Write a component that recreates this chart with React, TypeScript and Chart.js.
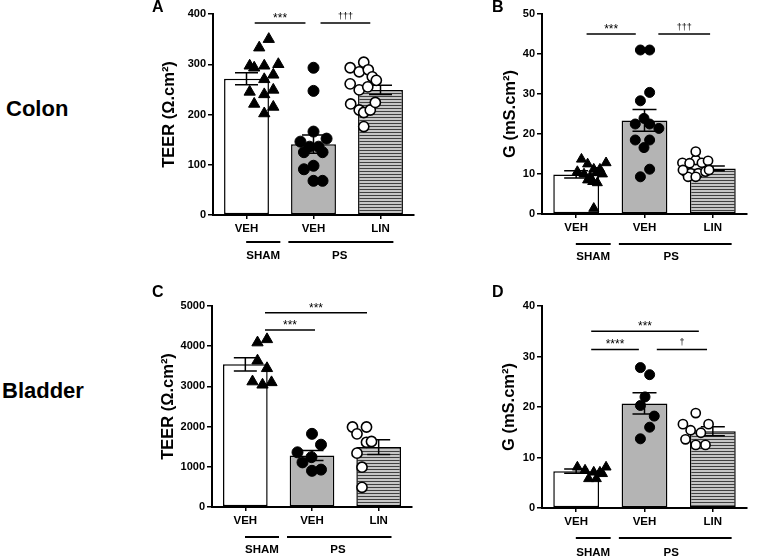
import React, { useEffect, useRef } from "react";
import { Chart, registerables } from "chart.js";
Chart.register(...registerables);

const FONT = "'Liberation Sans', Arial, Helvetica, sans-serif";

const categories = ["VEH", "VEH", "LIN"];
const groupLabels = ["SHAM", "PS"];

// ---------- Panel A: Colon TEER ----------
const aMeans = [271, 141, 249];
const aSem = [12, 18, 9];
const aShamY = [350, 333, 297, 293, 297, 300, 279, 270, 245, 240, 249, 221, 215, 202];
const aShamX = [0.11, -0.08, -0.27, -0.18, 0.02, 0.3, 0.2, 0.02, -0.27, 0.02, 0.2, -0.18, 0.2, 0.02];
const aVehY = [293, 247, 166, 146, 152, 136, 136, 125, 125, 98, 91, 68, 68];
const aVehX = [0, 0, 0, -0.26, 0.26, -0.08, 0.1, -0.19, 0.18, 0, -0.19, 0, 0.18];
const aLinY = [293, 304, 285, 289, 275, 268, 261, 249, 255, 221, 209, 204, 209, 224, 176];
const aLinX = [-0.27, 0, -0.09, 0.09, 0.17, 0.25, -0.27, -0.09, 0.08, -0.26, -0.09, 0, 0.13, 0.23, 0];
const aSigFrom = [-0.17, 1.14];
const aSigTo = [0.84, 2.13];
const aSigY = [382, 382];
const aSigText = ["***", "†††"];

// ---------- Panel B: Colon G ----------
const bMeans = [9.9, 23.4, 11.4];
const bSem = [0.9, 2.7, 0.6];
const bShamY = [13.7, 12.5, 12.8, 11.2, 11.2, 10.6, 10.0, 9.3, 10.3, 10.0, 8.1, 7.8, 8.5, 1.4];
const bShamX = [-0.23, -0.11, 0.25, 0.01, 0.13, -0.31, -0.18, -0.06, 0.06, 0.18, -0.01, 0.08, -0.11, 0.01];
const bVehY = [41, 41, 30.4, 28.3, 23.9, 22.5, 22.5, 21.4, 18.5, 18.5, 16.6, 11.2, 9.3];
const bVehX = [-0.08, 0.1, 0.1, -0.08, -0.01, -0.18, 0.1, 0.28, -0.18, 0.1, -0.01, 0.1, -0.08];
const bLinY = [13.5, 12.8, 12.7, 12.8, 13.3, 15.6, 10.6, 10.2, 10.2, 10.6, 9.3, 9.3, 11, 11];
const bLinX = [0, -0.26, -0.12, 0.12, 0.24, 0, -0.2, -0.1, 0.05, 0.19, -0.15, 0, -0.25, 0.26];
const bSigFrom = [-0.13, 1.27];
const bSigTo = [0.83, 2.28];
const bSigY = [45, 45];
const bSigText = ["***", "†††"];

// ---------- Panel C: Bladder TEER ----------
const cMeans = [3550, 1280, 1490];
const cSem = [165, 125, 185];
const cShamY = [4090, 4170, 3640, 3450, 3120, 3040, 3100];
const cShamX = [-0.09, 0.1, -0.09, 0.1, -0.19, 0.01, 0.19];
const cVehY = [1820, 1360, 1550, 1240, 1110, 900, 930];
const cVehX = [0, -0.29, 0.18, -0.01, -0.19, 0, 0.18];
const cLinY = [1990, 1990, 1820, 1610, 1630, 1340, 990, 490];
const cLinX = [-0.19, 0.09, -0.1, 0.09, 0.19, -0.1, 0, 0];
const cSigFrom = [0.06, 0.06];
const cSigTo = [2.1, 1.06];
const cSigY = [4830, 4400];
const cSigText = ["***", "***"];

// ---------- Panel D: Bladder G ----------
const dMeans = [7.3, 20.7, 15.2];
const dSem = [0.4, 2.1, 0.9];
const dShamY = [8.1, 8.1, 7.5, 7.1, 7.1, 5.8, 5.8, 6.8];
const dShamX = [-0.31, 0.25, -0.16, 0.01, 0.13, -0.09, 0.06, 0.18];
const dVehY = [27.8, 26.4, 22, 20.3, 18.2, 16, 13.7];
const dVehX = [-0.08, 0.1, 0.01, -0.08, 0.19, 0.1, -0.08];
const dLinY = [18.8, 16.6, 16.6, 15.4, 14.9, 13.6, 12.5, 12.5];
const dLinX = [0, -0.25, 0.25, -0.1, 0.1, -0.2, 0, 0.19];
const dSigFrom = [-0.04, -0.04, 1.24];
const dSigTo = [2.06, 0.89, 2.22];
const dSigY = [35, 31.4, 31.4];
const dSigText = ["***", "****", "†"];

const teerTitle = "TEER (Ω.cm²)";
const gTitle = "G (mS.cm²)";

type PanelCfg = {
  left: number; top: number; w: number; h: number;
  yW: number; xH: number;
  pad: { top: number; right: number; bottom: number; left: number };
  yMax: number; yStep: number;
  means: number[]; sem: number[];
  shamX: number[]; shamY: number[];
  vehX: number[]; vehY: number[];
  linX: number[]; linY: number[];
  sigFrom: number[]; sigTo: number[]; sigY: number[]; sigText: string[];
  title: string; titleOff: number;
  psEnd: number; lineOff: number; labelOff: number;
  triR: number; cirR: number; cap: number;
};

const panels: PanelCfg[] = [
  {
    left: 150, top: 0, w: 290, h: 275, yW: 63, xH: 55,
    pad: { top: 14, right: 26, bottom: 5, left: 0 },
    yMax: 400, yStep: 100, means: aMeans, sem: aSem,
    shamX: aShamX, shamY: aShamY, vehX: aVehX, vehY: aVehY, linX: aLinX, linY: aLinY,
    sigFrom: aSigFrom, sigTo: aSigTo, sigY: aSigY, sigText: aSigText,
    title: teerTitle, titleOff: 44, psEnd: 2.59, lineOff: 27, labelOff: 41,
    triR: 6.5, cirR: 5.5, cap: 23,
  },
  {
    left: 480, top: 0, w: 277, h: 275, yW: 62, xH: 55,
    pad: { top: 14, right: 10, bottom: 6, left: 0 },
    yMax: 50, yStep: 10, means: bMeans, sem: bSem,
    shamX: bShamX, shamY: bShamY, vehX: bVehX, vehY: bVehY, linX: bLinX, linY: bLinY,
    sigFrom: bSigFrom, sigTo: bSigTo, sigY: bSigY, sigText: bSigText,
    title: gTitle, titleOff: 32, psEnd: 2.7, lineOff: 30, labelOff: 43,
    triR: 5.8, cirR: 5, cap: 24,
  },
  {
    left: 150, top: 280, w: 290, h: 278, yW: 62, xH: 45,
    pad: { top: 26, right: 28, bottom: 6, left: 0 },
    yMax: 5000, yStep: 1000, means: cMeans, sem: cSem,
    shamX: cShamX, shamY: cShamY, vehX: cVehX, vehY: cVehY, linX: cLinX, linY: cLinY,
    sigFrom: cSigFrom, sigTo: cSigTo, sigY: cSigY, sigText: cSigText,
    title: teerTitle, titleOff: 44, psEnd: 2.59, lineOff: 30, labelOff: 43,
    triR: 6.5, cirR: 5.5, cap: 23,
  },
  {
    left: 480, top: 280, w: 277, h: 278, yW: 62, xH: 45,
    pad: { top: 26, right: 10, bottom: 5, left: 0 },
    yMax: 40, yStep: 10, means: dMeans, sem: dSem,
    shamX: dShamX, shamY: dShamY, vehX: dVehX, vehY: dVehY, linX: dLinX, linY: dLinY,
    sigFrom: dSigFrom, sigTo: dSigTo, sigY: dSigY, sigText: dSigText,
    title: gTitle, titleOff: 33, psEnd: 2.7, lineOff: 30, labelOff: 45,
    triR: 5.8, cirR: 5, cap: 24,
  },
];

const annotPlugin = {
  id: "annot",
  afterDatasetDraw(chart: any, args: any, opts: any) {
    if (args.index !== 3) return;
    const ctx = chart.ctx;
    const x = chart.scales.x;
    const y = chart.scales.y;
    ctx.save();
    ctx.strokeStyle = "#000";
    ctx.lineWidth = 1.5;
    opts.means.forEach((m: number, i: number) => {
      const px = x.getPixelForValue(i);
      const t = y.getPixelForValue(m + opts.sem[i]);
      const b = y.getPixelForValue(m - opts.sem[i]);
      const hc = opts.cap / 2;
      ctx.beginPath();
      ctx.moveTo(px, t); ctx.lineTo(px, b);
      ctx.moveTo(px - hc, t); ctx.lineTo(px + hc, t);
      ctx.moveTo(px - hc, b); ctx.lineTo(px + hc, b);
      ctx.stroke();
    });
    ctx.restore();
  },
  afterDraw(chart: any, _args: any, opts: any) {
    const ctx = chart.ctx;
    const xs = chart.scales.xs;
    const y = chart.scales.y;
    const area = chart.chartArea;
    ctx.save();
    ctx.fillStyle = "#000";
    ctx.strokeStyle = "#000";
    opts.sigFrom.forEach((f: number, i: number) => {
      const x0 = xs.getPixelForValue(f);
      const x1 = xs.getPixelForValue(opts.sigTo[i]);
      const py = y.getPixelForValue(opts.sigY[i]);
      ctx.lineWidth = 1.5;
      ctx.beginPath();
      ctx.moveTo(x0, py); ctx.lineTo(x1, py);
      ctx.stroke();
      const txt = opts.sigText[i];
      const dagger = txt.indexOf("†") >= 0;
      ctx.font = dagger ? `9px ${FONT}` : `12px ${FONT}`;
      ctx.textAlign = "center";
      ctx.textBaseline = "alphabetic";
      ctx.fillText(txt, (x0 + x1) / 2, dagger ? py - 4 : py - 1);
    });
    const ly = area.bottom + opts.lineOff;
    ctx.lineWidth = 2;
    ctx.beginPath();
    ctx.moveTo(xs.getPixelForValue(-0.34), ly);
    ctx.lineTo(xs.getPixelForValue(0.34), ly);
    ctx.moveTo(xs.getPixelForValue(0.5), ly);
    ctx.lineTo(xs.getPixelForValue(opts.psEnd), ly);
    ctx.stroke();
    ctx.font = `bold 11.5px ${FONT}`;
    ctx.textAlign = "center";
    ctx.textBaseline = "middle";
    ctx.fillText(groupLabels[0], xs.getPixelForValue(0), area.bottom + opts.labelOff);
    ctx.fillText(groupLabels[1], xs.getPixelForValue(1.52), area.bottom + opts.labelOff);
    ctx.save();
    ctx.translate(area.left - opts.titleOff, (area.top + area.bottom) / 2);
    ctx.rotate(-Math.PI / 2);
    ctx.font = `bold 16.5px ${FONT}`;
    ctx.textAlign = "center";
    ctx.textBaseline = "middle";
    ctx.fillText(opts.title, 0, 0);
    ctx.restore();
    ctx.restore();
  },
};

function makeStripes(): CanvasPattern | string {
  const c = document.createElement("canvas");
  c.width = 4;
  c.height = 3;
  const g = c.getContext("2d");
  if (!g) return "#999";
  g.fillStyle = "#c6c6c6";
  g.fillRect(0, 0, 4, 3);
  g.fillStyle = "#404040";
  g.fillRect(0, 0, 4, 1);
  return g.createPattern(c, "repeat") || "#999";
}

function PanelChart({ cfg }: { cfg: PanelCfg }) {
  const ref = useRef<HTMLCanvasElement | null>(null);
  useEffect(() => {
    if (!ref.current) return;
    const stripes = makeStripes();
    const pts = (xo: number[], yv: number[], c: number) =>
      yv.map((v, i) => ({ x: c + xo[i], y: v }));
    const chart = new Chart(ref.current, {
      type: "bar",
      data: {
        labels: categories,
        datasets: [
          {
            type: "scatter",
            data: pts(cfg.shamX, cfg.shamY, 0),
            xAxisID: "xs",
            yAxisID: "y",
            pointStyle: "triangle",
            pointRadius: cfg.triR,
            backgroundColor: "#000",
            borderColor: "#000",
            borderWidth: 1,
            order: 0,
          } as any,
          {
            type: "scatter",
            data: pts(cfg.vehX, cfg.vehY, 1),
            xAxisID: "xs",
            yAxisID: "y",
            pointStyle: "circle",
            pointRadius: cfg.cirR,
            backgroundColor: "#000",
            borderColor: "#000",
            borderWidth: 1,
            order: 0,
          } as any,
          {
            type: "scatter",
            data: pts(cfg.linX, cfg.linY, 2),
            xAxisID: "xs",
            yAxisID: "y",
            pointStyle: "circle",
            pointRadius: cfg.cirR - 0.4,
            backgroundColor: "#fff",
            borderColor: "#000",
            borderWidth: 1.6,
            order: 0,
          } as any,
          {
            type: "bar",
            data: cfg.means,
            xAxisID: "x",
            yAxisID: "y",
            backgroundColor: ["#ffffff", "#b4b4b4", stripes],
            borderColor: "#000",
            borderWidth: 1.5,
            borderSkipped: false,
            grouped: false,
            barPercentage: 1,
            categoryPercentage: 0.67,
            order: 1,
          } as any,
        ],
      },
      options: {
        responsive: false,
        animation: false,
        devicePixelRatio: 1,
        events: [],
        layout: { padding: cfg.pad },
        plugins: {
          legend: { display: false },
          tooltip: { enabled: false },
          annot: {
            means: cfg.means, sem: cfg.sem, cap: cfg.cap,
            sigFrom: cfg.sigFrom, sigTo: cfg.sigTo, sigY: cfg.sigY, sigText: cfg.sigText,
            title: cfg.title, titleOff: cfg.titleOff, psEnd: cfg.psEnd,
            lineOff: cfg.lineOff, labelOff: cfg.labelOff,
          },
        } as any,
        scales: {
          x: {
            type: "category",
            offset: true,
            grid: {
              display: true, drawOnChartArea: false, offset: false,
              tickLength: 4, color: "#000", lineWidth: 1.5,
            },
            border: { display: true, color: "#000", width: 2 },
            ticks: {
              color: "#000", padding: 3, maxRotation: 0, autoSkip: false,
              font: { family: FONT, size: 11.5, weight: "bold" },
            },
            afterFit: (s: any) => { s.height = cfg.xH; },
          },
          xs: { type: "linear", display: false, min: -0.5, max: 2.5 },
          y: {
            min: 0,
            max: cfg.yMax,
            ticks: {
              stepSize: cfg.yStep, color: "#000", padding: 2,
              font: { family: FONT, size: 11, weight: "bold" },
              callback: (v: any) => String(v),
            },
            grid: {
              display: true, drawOnChartArea: false,
              tickLength: 5, color: "#000", lineWidth: 1.5,
            },
            border: { display: true, color: "#000", width: 2 },
            afterFit: (s: any) => { s.width = cfg.yW; },
          },
        } as any,
      },
      plugins: [annotPlugin as any],
    });
    return () => chart.destroy();
  }, [cfg]);
  return (
    <canvas
      ref={ref}
      width={cfg.w}
      height={cfg.h}
      style={{ position: "absolute", left: cfg.left, top: cfg.top, width: cfg.w, height: cfg.h }}
    />
  );
}

const textStyle = (left: number, top: number, size: number): React.CSSProperties => ({
  position: "absolute",
  left,
  top,
  fontFamily: FONT,
  fontWeight: "bold",
  fontSize: size,
  lineHeight: 1,
  color: "#000",
  whiteSpace: "nowrap",
});

export default function App() {
  return (
    <div style={{ position: "absolute", left: 0, top: 0, width: 757, height: 558, background: "#fff", overflow: "hidden" }}>
      {panels.map((p, i) => (
        <PanelChart key={i} cfg={p} />
      ))}
      <div style={textStyle(6, 98, 22)}>Colon</div>
      <div style={textStyle(2, 380, 22)}>Bladder</div>
      <div style={textStyle(152, -1, 16)}>A</div>
      <div style={textStyle(492, -1, 16)}>B</div>
      <div style={textStyle(152, 284, 16)}>C</div>
      <div style={textStyle(492, 284, 16)}>D</div>
    </div>
  );
}
